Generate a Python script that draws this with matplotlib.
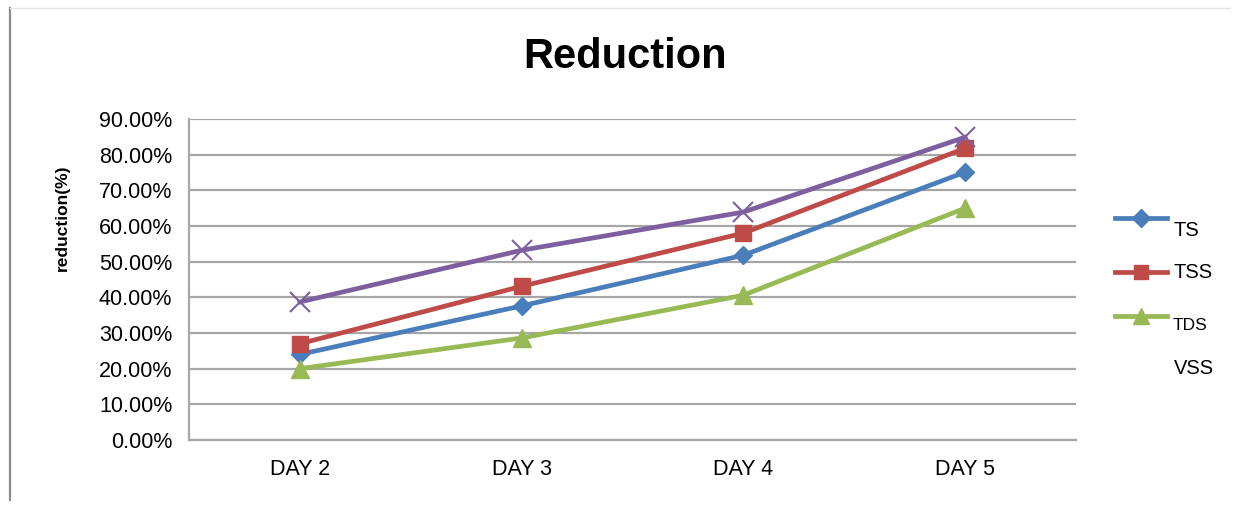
import matplotlib
matplotlib.use("Agg")
import matplotlib.pyplot as plt
from matplotlib.lines import Line2D

plt.rcParams['font.family'] = ['Liberation Sans', 'DejaVu Sans']

days = ["DAY 2", "DAY 3", "DAY 4", "DAY 5"]
ts = [0.240, 0.376, 0.518, 0.751]
tss = [0.270, 0.431, 0.580, 0.818]
tds = [0.200, 0.286, 0.406, 0.650]
vss = [0.387, 0.532, 0.639, 0.849]
yticks = [0.0, 0.1, 0.2, 0.3, 0.4, 0.5, 0.6, 0.7, 0.8, 0.9]

W, H = 1236, 505
fig = plt.figure(figsize=(W / 100, H / 100), dpi=100)
ax = fig.add_axes([189 / W, 1 - 440 / H, (1076 - 189) / W, (440 - 119) / H])

x = list(range(len(days)))
lw = 3.4
ax.plot(x, ts, color="#4A7EBB", lw=lw, marker="D", ms=9, zorder=4)
ax.plot(x, tss, color="#BE4B48", lw=lw, marker="s", ms=12, zorder=4)
ax.plot(x, tds, color="#98B954", lw=lw, marker="^", ms=13, zorder=4)
ax.plot(x, vss, color="#7D5FA0", lw=lw, marker="x", ms=14, mew=1.5,
        mec="#7D5FA0", zorder=4)

ax.set_xlim(-0.5, len(days) - 0.5)
ax.set_ylim(0, 0.9)
ax.set_yticks(yticks)
ax.set_yticklabels([f"{v * 100:.2f}%" for v in yticks], fontsize=15.5)
ax.set_xticks(x)
ax.set_xticklabels(days, fontsize=15.5)
ax.tick_params(axis="y", length=0, pad=12)
ax.tick_params(axis="x", length=0, pad=14)
ax.grid(axis="y", color="#A6A6A6", lw=1.6)
ax.set_axisbelow(True)
for side in ("top", "right"):
    ax.spines[side].set_visible(False)
for side in ("left", "bottom"):
    ax.spines[side].set_color("#A6A6A6")
    ax.spines[side].set_linewidth(1.6)


def fy(py):
    return 1 - py / H


fig.text(62 / W, fy(218), "reduction(%)", fontsize=12.5, fontweight="bold",
         rotation=90, ha="center", va="center")
fig.text(625 / W, fy(57), "Reduction", fontsize=30, fontweight="bold",
         ha="center", va="center")

# legend on the right
entries = [
    ("TS", "#4A7EBB", "D", 9, 218, 230, 14.5),
    ("TSS", "#BE4B48", "s", 10, 272, 272, 14.5),
    ("TDS", "#98B954", "^", 11, 316, 326, 12.5),
]
for label, col, mk, ms, ly, ty, fs in entries:
    fig.add_artist(Line2D([1115 / W, 1167 / W], [fy(ly), fy(ly)], color=col,
                          lw=3.4, transform=fig.transFigure))
    fig.add_artist(Line2D([1141 / W], [fy(ly)], color=col, marker=mk, ms=ms,
                          transform=fig.transFigure))
    fig.text(1173 / W, fy(ty), label, fontsize=fs, va="center", ha="left")
fig.text(1174 / W, fy(368), "VSS", fontsize=14.5, va="center", ha="left")

# chart frame
fig.add_artist(Line2D([10 / W, 10 / W], [fy(8), fy(500)], color="#8C8C8C",
                      lw=1.6, transform=fig.transFigure))
fig.add_artist(Line2D([10 / W, 1230 / W], [fy(8), fy(8)], color="#E4E4E4",
                      lw=1.0, transform=fig.transFigure))

fig.savefig("out.png", dpi=100, facecolor="white")
